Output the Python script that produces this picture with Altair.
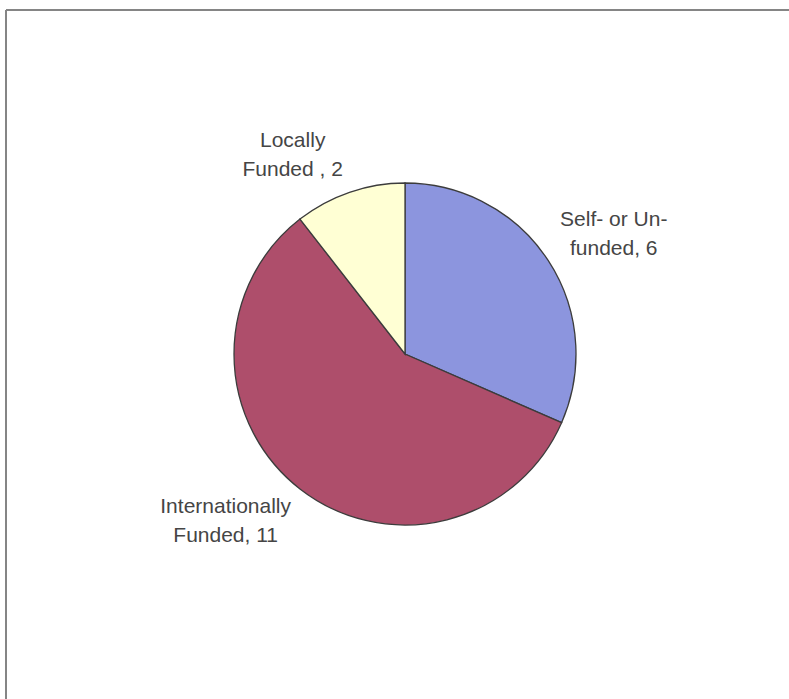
import math
import altair as alt
import pandas as pd

# ---- data ----
categories = ["Self- or Un-funded", "Internationally Funded", "Locally Funded"]
values = [6, 11, 2]
labels = ["Self- or Un-\nfunded, 6", "Internationally\nFunded, 11", "Locally\nFunded , 2"]
slice_order = [0, 1, 2]
colors = ["#8C95DE", "#AE4E6B", "#FFFFD4"]

df = pd.DataFrame({"category": categories, "value": values,
                   "label": labels, "order": slice_order})

W, H = 783, 689
cx, cy = 399, 344

base = alt.Chart(df)

pie = base.mark_arc(outerRadius=171, stroke="#3c3c3c", strokeWidth=1.3).encode(
    theta=alt.Theta("value:Q", stack=True),
    color=alt.Color("category:N", scale=alt.Scale(domain=categories, range=colors), legend=None),
    order=alt.Order("order:Q"),
    x=alt.value(cx), y=alt.value(cy),
)

lab_base = (
    base.transform_joinaggregate(total="sum(value)")
    .transform_window(cum="sum(value)", sort=[alt.SortField("order")])
    .transform_calculate(mid="(datum.cum - datum.value/2)/datum.total")
)


def lab(cat, dx, dy):
    return lab_base.transform_filter(alt.datum.category == cat).mark_text(
        lineBreak="\n", fontSize=21, font="Liberation Sans", color="#454545",
        dx=dx, dy=dy, align="center", baseline="middle", lineHeight=29,
    ).encode(
        theta=alt.Theta("mid:Q", scale=alt.Scale(domain=[0, 1], range=[0, 2 * math.pi])),
        radius=alt.value(235),
        text="label:N",
        x=alt.value(cx), y=alt.value(cy),
    )


one = alt.Chart(pd.DataFrame({"a": [0]}))
top_rule = one.mark_rule(color="#858585", strokeWidth=2).encode(
    x=alt.value(0), x2=alt.value(W), y=alt.value(0))
left_rule = one.mark_rule(color="#858585", strokeWidth=2).encode(
    x=alt.value(0), y=alt.value(0), y2=alt.value(H))

chart = alt.layer(
    top_rule, left_rule, pie,
    lab("Self- or Un-funded", 12, -5),
    lab("Internationally Funded", -35, -32),
    lab("Locally Funded", -36, 9),
).resolve_scale(theta="independent").properties(
    width=W, height=H,
    padding={"left": 6, "top": 10, "right": 0, "bottom": 0},
    autosize=alt.AutoSizeParams(type="none"),
    background="white",
).configure_view(stroke=None)

chart.save("out.html", embed_options={"renderer": "svg", "actions": False})
